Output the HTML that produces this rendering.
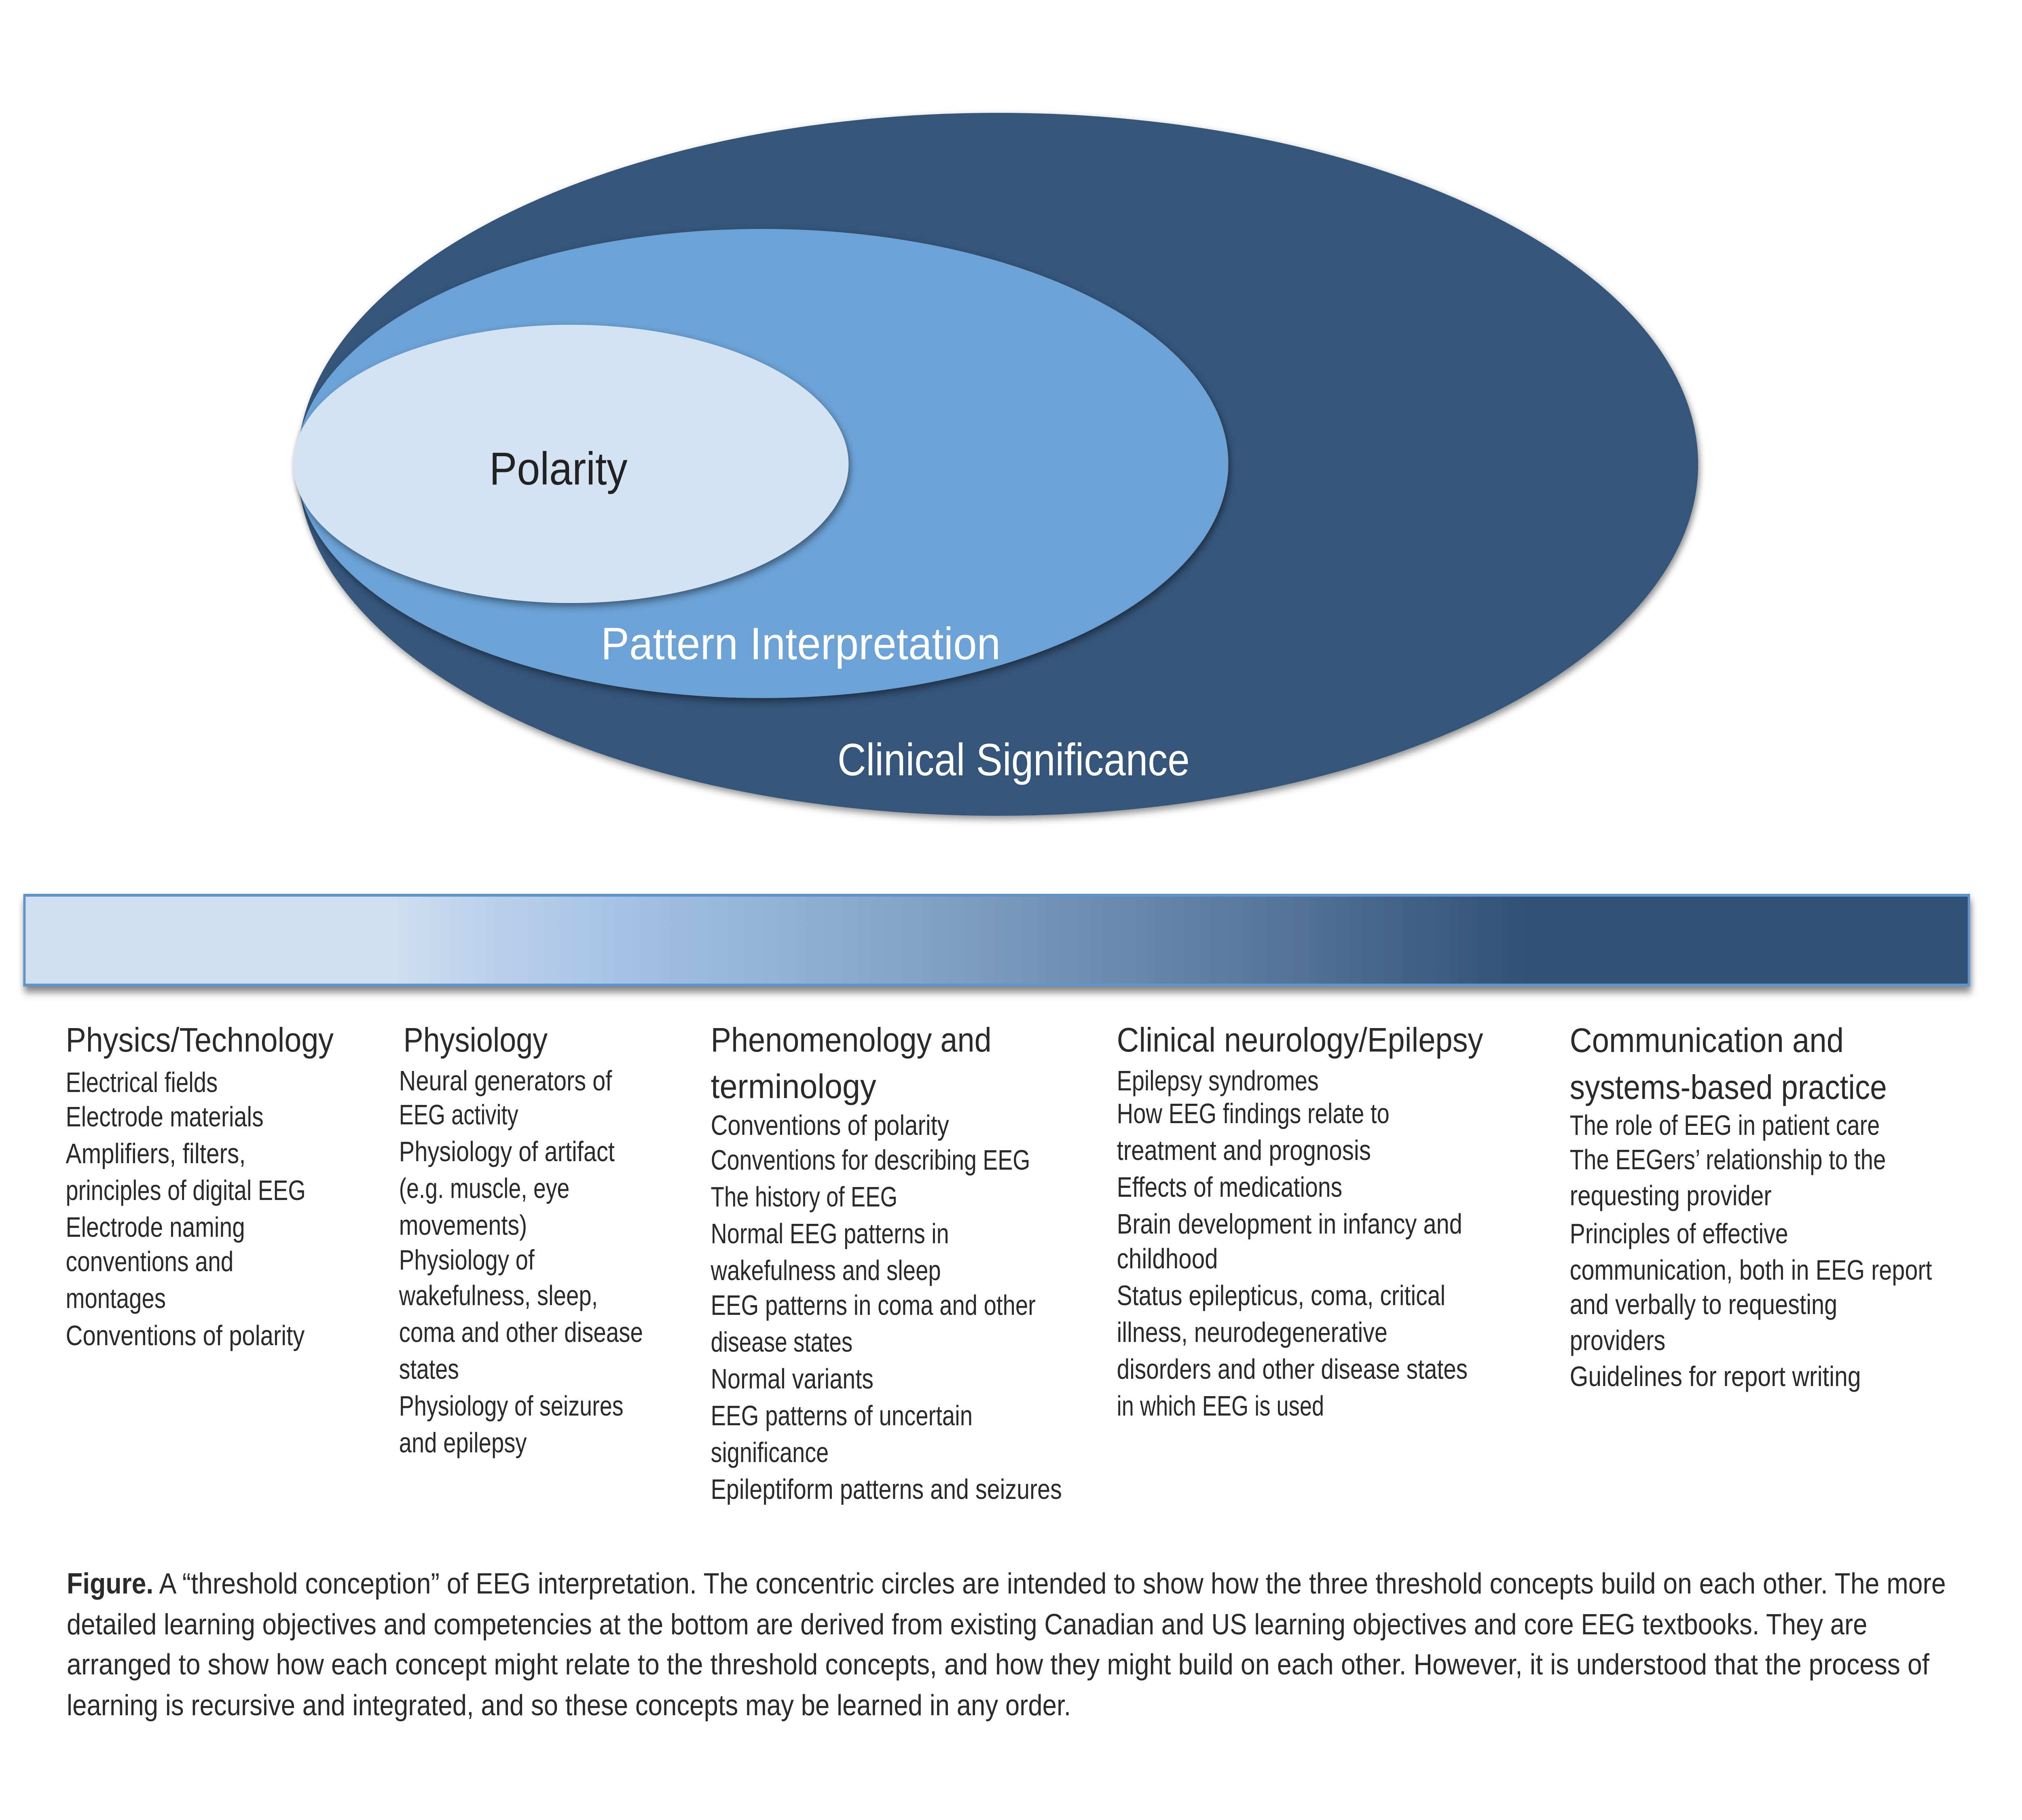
<!DOCTYPE html>
<html>
<head>
<meta charset="utf-8">
<style>
html,body{margin:0;padding:0;background:#fff;width:100%;height:100%;overflow:hidden;}
svg{display:block;width:100vw;height:100vh;}
text{font-family:"Liberation Sans",Arial,sans-serif;}
.b{font-size:70px;fill:#2a2a2a;}
.h{font-size:84px;fill:#2a2a2a;}
.c{font-size:72px;fill:#2a2a2a;}
</style>
</head>
<body>
<svg viewBox="0 0 6000 4500" preserveAspectRatio="none" xmlns="http://www.w3.org/2000/svg">
<defs>
  <filter id="sh" x="-5%" y="-5%" width="112%" height="118%">
    <feDropShadow dx="5" dy="8" stdDeviation="9" flood-color="#000" flood-opacity="0.45"/>
  </filter>
  <filter id="bsh" x="-2%" y="-10%" width="104%" height="140%">
    <feDropShadow dx="3" dy="14" stdDeviation="10" flood-color="#000" flood-opacity="0.5"/>
  </filter>
  <linearGradient id="g" x1="76" y1="0" x2="5839" y2="0" gradientUnits="userSpaceOnUse">
    <stop offset="0" stop-color="#D1E0F1"/>
    <stop offset="0.186" stop-color="#D1E0F1"/>
    <stop offset="0.226" stop-color="#BFD4EC"/>
    <stop offset="0.319" stop-color="#A2BFE3"/>
    <stop offset="0.386" stop-color="#93B2D6"/>
    <stop offset="0.486" stop-color="#7E9CC0"/>
    <stop offset="0.585" stop-color="#6484AA"/>
    <stop offset="0.652" stop-color="#55729A"/>
    <stop offset="0.718" stop-color="#415F86"/>
    <stop offset="0.771" stop-color="#335177"/>
    <stop offset="1" stop-color="#335177"/>
  </linearGradient>
</defs>

<rect width="6000" height="4500" fill="#fff"/>

<!-- Ellipses -->
<ellipse cx="2961" cy="1148" rx="2078" ry="869" fill="#34547A" filter="url(#sh)"/>
<ellipse cx="2262" cy="1146" rx="1383" ry="580" fill="#6CA2D6" filter="url(#sh)"/>
<ellipse cx="1694" cy="1147" rx="824" ry="344" fill="#D4E3F3" filter="url(#sh)"/>

<text x="1452" y="1198" font-size="114" fill="#222" textLength="410" lengthAdjust="spacingAndGlyphs">Polarity</text>
<text x="1783" y="1630" font-size="112" fill="#fff" textLength="1186" lengthAdjust="spacingAndGlyphs">Pattern Interpretation</text>
<text x="2485" y="1917" font-size="112" fill="#fff" textLength="1045" lengthAdjust="spacingAndGlyphs">Clinical Significance</text>

<!-- Gradient bar -->
<rect x="72.5" y="2213.5" width="5770" height="222" fill="url(#g)" stroke="#5E93CA" stroke-width="7" filter="url(#bsh)"/>

<!-- Column 1 -->
<text class="h" x="195" y="2600" textLength="795" lengthAdjust="spacingAndGlyphs">Physics/Technology</text>
<text class="b" x="195" y="2700" textLength="451" lengthAdjust="spacingAndGlyphs">Electrical fields</text>
<text class="b" x="195" y="2785" textLength="587" lengthAdjust="spacingAndGlyphs">Electrode materials</text>
<text class="b" x="195" y="2876" textLength="534" lengthAdjust="spacingAndGlyphs">Amplifiers, filters,</text>
<text class="b" x="195" y="2967" textLength="712" lengthAdjust="spacingAndGlyphs">principles of digital EEG</text>
<text class="b" x="195" y="3058" textLength="532" lengthAdjust="spacingAndGlyphs">Electrode naming</text>
<text class="b" x="195" y="3143" textLength="498" lengthAdjust="spacingAndGlyphs">conventions and</text>
<text class="b" x="195" y="3234" textLength="297" lengthAdjust="spacingAndGlyphs">montages</text>
<text class="b" x="195" y="3326" textLength="709" lengthAdjust="spacingAndGlyphs">Conventions of polarity</text>

<!-- Column 2 -->
<text class="h" x="1197" y="2600" textLength="428" lengthAdjust="spacingAndGlyphs">Physiology</text>
<text class="b" x="1184" y="2696" textLength="632" lengthAdjust="spacingAndGlyphs">Neural generators of</text>
<text class="b" x="1184" y="2780" textLength="354" lengthAdjust="spacingAndGlyphs">EEG activity</text>
<text class="b" x="1184" y="2871" textLength="640" lengthAdjust="spacingAndGlyphs">Physiology of artifact</text>
<text class="b" x="1184" y="2962" textLength="506" lengthAdjust="spacingAndGlyphs">(e.g. muscle, eye</text>
<text class="b" x="1184" y="3053" textLength="380" lengthAdjust="spacingAndGlyphs">movements)</text>
<text class="b" x="1184" y="3139" textLength="402" lengthAdjust="spacingAndGlyphs">Physiology of</text>
<text class="b" x="1184" y="3227" textLength="590" lengthAdjust="spacingAndGlyphs">wakefulness, sleep,</text>
<text class="b" x="1184" y="3318" textLength="724" lengthAdjust="spacingAndGlyphs">coma and other disease</text>
<text class="b" x="1184" y="3409" textLength="178" lengthAdjust="spacingAndGlyphs">states</text>
<text class="b" x="1184" y="3500" textLength="666" lengthAdjust="spacingAndGlyphs">Physiology of seizures</text>
<text class="b" x="1184" y="3591" textLength="379" lengthAdjust="spacingAndGlyphs">and epilepsy</text>

<!-- Column 3 -->
<text class="h" x="2109" y="2600" textLength="833" lengthAdjust="spacingAndGlyphs">Phenomenology and</text>
<text class="h" x="2109" y="2715" textLength="491" lengthAdjust="spacingAndGlyphs">terminology</text>
<text class="b" x="2109" y="2806" textLength="707" lengthAdjust="spacingAndGlyphs">Conventions of polarity</text>
<text class="b" x="2109" y="2892" textLength="948" lengthAdjust="spacingAndGlyphs">Conventions for describing EEG</text>
<text class="b" x="2109" y="2983" textLength="554" lengthAdjust="spacingAndGlyphs">The history of EEG</text>
<text class="b" x="2109" y="3074" textLength="707" lengthAdjust="spacingAndGlyphs">Normal EEG patterns in</text>
<text class="b" x="2109" y="3165" textLength="683" lengthAdjust="spacingAndGlyphs">wakefulness and sleep</text>
<text class="b" x="2109" y="3251" textLength="964" lengthAdjust="spacingAndGlyphs">EEG patterns in coma and other</text>
<text class="b" x="2109" y="3342" textLength="421" lengthAdjust="spacingAndGlyphs">disease states</text>
<text class="b" x="2109" y="3433" textLength="483" lengthAdjust="spacingAndGlyphs">Normal variants</text>
<text class="b" x="2109" y="3524" textLength="777" lengthAdjust="spacingAndGlyphs">EEG patterns of uncertain</text>
<text class="b" x="2109" y="3615" textLength="350" lengthAdjust="spacingAndGlyphs">significance</text>
<text class="b" x="2109" y="3706" textLength="1042" lengthAdjust="spacingAndGlyphs">Epileptiform patterns and seizures</text>

<!-- Column 4 -->
<text class="h" x="3314" y="2600" textLength="1087" lengthAdjust="spacingAndGlyphs">Clinical neurology/Epilepsy</text>
<text class="b" x="3314" y="2696" textLength="599" lengthAdjust="spacingAndGlyphs">Epilepsy syndromes</text>
<text class="b" x="3314" y="2777" textLength="809" lengthAdjust="spacingAndGlyphs">How EEG findings relate to</text>
<text class="b" x="3314" y="2868" textLength="754" lengthAdjust="spacingAndGlyphs">treatment and prognosis</text>
<text class="b" x="3314" y="2959" textLength="669" lengthAdjust="spacingAndGlyphs">Effects of medications</text>
<text class="b" x="3314" y="3050" textLength="1025" lengthAdjust="spacingAndGlyphs">Brain development in infancy and</text>
<text class="b" x="3314" y="3136" textLength="300" lengthAdjust="spacingAndGlyphs">childhood</text>
<text class="b" x="3314" y="3227" textLength="975" lengthAdjust="spacingAndGlyphs">Status epilepticus, coma, critical</text>
<text class="b" x="3314" y="3318" textLength="803" lengthAdjust="spacingAndGlyphs">illness, neurodegenerative</text>
<text class="b" x="3314" y="3409" textLength="1041" lengthAdjust="spacingAndGlyphs">disorders and other disease states</text>
<text class="b" x="3314" y="3500" textLength="615" lengthAdjust="spacingAndGlyphs">in which EEG is used</text>

<!-- Column 5 -->
<text class="h" x="4658" y="2601" textLength="813" lengthAdjust="spacingAndGlyphs">Communication and</text>
<text class="h" x="4658" y="2717" textLength="941" lengthAdjust="spacingAndGlyphs">systems-based practice</text>
<text class="b" x="4658" y="2806" textLength="920" lengthAdjust="spacingAndGlyphs">The role of EEG in patient care</text>
<text class="b" x="4658" y="2891" textLength="938" lengthAdjust="spacingAndGlyphs">The EEGers’ relationship to the</text>
<text class="b" x="4658" y="2980" textLength="599" lengthAdjust="spacingAndGlyphs">requesting provider</text>
<text class="b" x="4658" y="3074" textLength="648" lengthAdjust="spacingAndGlyphs">Principles of effective</text>
<text class="b" x="4658" y="3164" textLength="1075" lengthAdjust="spacingAndGlyphs">communication, both in EEG report</text>
<text class="b" x="4658" y="3249" textLength="794" lengthAdjust="spacingAndGlyphs">and verbally to requesting</text>
<text class="b" x="4658" y="3338" textLength="284" lengthAdjust="spacingAndGlyphs">providers</text>
<text class="b" x="4658" y="3427" textLength="864" lengthAdjust="spacingAndGlyphs">Guidelines for report writing</text>

<!-- Caption -->
<text class="c" x="198" y="3940" textLength="5576" lengthAdjust="spacingAndGlyphs"><tspan font-weight="bold">Figure.</tspan> A “threshold conception” of EEG interpretation. The concentric circles are intended to show how the three threshold concepts build on each other. The more</text>
<text class="c" x="198" y="4041" textLength="5343" lengthAdjust="spacingAndGlyphs">detailed learning objectives and competencies at the bottom are derived from existing Canadian and US learning objectives  and core EEG textbooks. They are</text>
<text class="c" x="198" y="4140" textLength="5527" lengthAdjust="spacingAndGlyphs">arranged to show how each concept might relate to the threshold concepts, and how they might build on each other. However, it is understood that the process of</text>
<text class="c" x="198" y="4241" textLength="2980" lengthAdjust="spacingAndGlyphs">learning is recursive and integrated, and so these concepts may be learned in any order.</text>
</svg>
</body>
</html>
